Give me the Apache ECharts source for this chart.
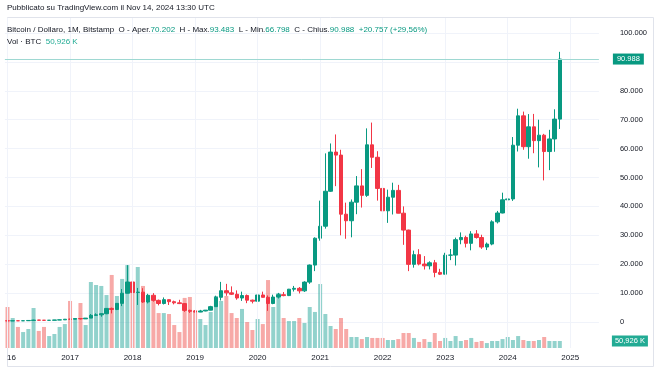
<!DOCTYPE html>
<html>
<head>
<meta charset="utf-8">
<script src="https://cdn.jsdelivr.net/npm/echarts@6/dist/echarts.min.js"></script>
<style>
html,body{margin:0;padding:0;background:#fff;}
#chart{width:660px;height:369px;}
</style>
</head>
<body>
<div id="chart"></div>
<script>
// ---- DATA (monthly, Jan 2016 .. Nov 2024) ----
const firstYear = 2016;
const totalSlots = 114; // Jan 2016 .. Jun 2025 (empty right margin)
const openP = [
 430.9,368.8,437,416,448.5,531,673,624,575,609,699,742,
 964.5,961,1190,1080,1350,2300,2480,2870,4700,4340,6450,9950,
 13850,10220,10330,6930,9240,7490,6400,7730,7030,6630,6370,4020,
 3690,3440,3820,4100,5320,8550,10820,10080,9600,8300,9150,7550,
 7200,9350,8540,6410,8630,9450,9140,11350,11650,10780,13800,19700,
 28990,33140,45240,58800,57750,37300,35040,41460,47100,43820,61300,57000,
 46220,38480,43180,45540,37650,31800,19940,23300,20050,19430,20490,17160,
 16540,23130,23150,28480,29250,27220,30480,29230,25940,26970,34660,37720,
 42280,42580,61170,71330,60660,67530,62750,64640,58980,63340,70202
];
const highP = [
 462.9,448,440,467,550,778,704,630,630,720,755,975,
 1150,1200,1290,1360,2760,3000,2950,4800,5000,6470,11400,19666,
 17200,11790,11700,9760,9990,7760,8500,7750,7400,7680,6550,4250,
 4110,4200,4130,5600,9100,13880,13200,12330,10940,10500,9520,7750,
 9580,10500,9190,9460,10070,10380,11450,12480,12100,14100,19880,29300,
 41990,58350,61780,64900,59600,41300,42400,50500,52900,67000,69000,59100,
 47990,45800,48200,47450,40000,31950,24700,25200,22800,21000,21480,18400,
 23950,25250,29200,31000,29850,31430,31800,30200,27500,35200,38430,44750,
 48970,64000,73800,72800,71950,72000,70000,65100,66500,73600,93483
];
const lowP = [
 350,365.5,394,412,436,520,605,470,570,605,680,740,
 750,920,890,1060,1350,2100,1830,2700,2970,4110,5500,9900,
 9000,5900,6600,6430,7050,5760,6070,5880,6100,6200,3500,3120,
 3350,3390,3700,4050,5300,7450,9070,9350,7700,7300,6520,6430,
 6850,8450,3850,6150,8130,8900,8970,10540,9880,10400,13200,17600,
 28130,32300,45000,47000,30000,28800,29300,37300,39600,43300,53300,42000,
 32950,34300,37200,37600,26700,17600,18800,19600,18150,18200,15480,16250,
 16500,21400,19550,26900,25800,24800,28860,25300,24900,26550,34100,37600,
 38500,41900,59000,59600,56500,58400,53500,49000,52550,58900,66798
];
const closeP = [
 368.8,437,416,448.5,531,673,624,575,609,699,742,964.5,
 961,1190,1080,1350,2300,2480,2870,4700,4340,6450,9950,13850,
 10220,10330,6930,9240,7490,6400,7730,7030,6630,6370,4020,3690,
 3440,3820,4100,5320,8550,10820,10080,9600,8300,9150,7550,7200,
 9350,8540,6410,8630,9450,9140,11350,11650,10780,13800,19700,28990,
 33140,45240,58800,57750,37300,35040,41460,47100,43820,61300,57000,46220,
 38480,43180,45540,37650,31800,19940,23300,20050,19430,20490,17160,16540,
 23130,23150,28480,29250,27220,30480,29230,25940,26970,34660,37720,42280,
 42580,61170,71330,60660,67530,62750,64640,58980,63340,70202,90988
];
// volume in thousands of BTC
const volumeK = [
 298,218,153,116,138,291,124,153,87,102,153,174,
 342,218,327,167,480,458,451,385,531,378,502,603,
 480,589,451,385,371,254,254,247,167,116,364,371,
 276,211,167,262,378,342,378,254,218,284,189,131,
 211,174,494,298,400,218,196,196,218,182,298,262,
 465,247,160,138,218,138,80,80,65,80,73,73,
 73,58,58,65,109,109,73,44,65,44,109,51,
 73,51,87,51,58,73,44,51,36,51,51,65,
 80,58,87,58,51,51,58,80,51,51,50.926
];
const yearLabels = ['16','2017','2018','2019','2020','2021','2022','2023','2024','2025'];
const lastPriceLabel = '90.988';
const lastVolLabel = '50,926 K';

// ---- build ----
const cats = [];
for (let i = 0; i < totalSlots; i++) {
  const y = firstYear + Math.floor(i / 12), m = i % 12 + 1;
  cats.push(y + '-' + (m < 10 ? '0' + m : m));
}
const janCats = cats.filter(c => c.endsWith('-01'));

const UP = '#089981', DOWN = '#f23645';
const UPV = 'rgba(38,166,154,0.5)', DOWNV = 'rgba(239,83,80,0.5)';
const PRICE_LINE = '#9ed8d2';
const candleData = openP.map((o, i) => [o, closeP[i], lowP[i], highP[i]]);
const volData = volumeK.map((v, i) => ({ value: v, itemStyle: { color: closeP[i] >= openP[i] ? UPV : DOWNV } }));

function itFmt(v) {
  return String(v).replace(/\B(?=(\d{3})+(?!\d))/g, '.');
}

const FONT = "'Liberation Sans', Arial, sans-serif";
const TXT = '#131722';
const GL = 4.9, GR = 61.1;
const HF = 8;

const chart = echarts.init(document.getElementById('chart'), null, { renderer: 'canvas' });
chart.setOption({
  animation: false,
  backgroundColor: '#ffffff',
  color: ['#26a69a', '#26a69a', '#26a69a', '#26a69a'],
  textStyle: { fontFamily: FONT },
  title: [
    { text: 'Pubblicato su TradingView.com il Nov 14, 2024 13:30 UTC', left: 7, top: 4, padding: 0,
      textStyle: { fontSize: HF, fontWeight: 'normal', color: TXT, fontFamily: FONT } },
    { text: '{t|Bitcoin / Dollaro, 1M, Bitstamp}  {t|O - Aper.}{v|70.202}  {t|H - Max.}{v|93.483}  {t|L - Min.}{v|66.798}  {t|C - Chius.}{v|90.988}  {v|+20.757 (+29,56%)}',
      left: 7, top: 26, padding: 0,
      textStyle: { fontSize: HF, fontWeight: 'normal', fontFamily: FONT,
        rich: { t: { color: TXT, fontSize: HF, fontFamily: FONT }, v: { color: UP, fontSize: HF, fontFamily: FONT } } } },
    { text: '{t|Vol · BTC}  {w|50,926 K}', left: 7, top: 38, padding: 0,
      textStyle: { fontSize: HF, fontWeight: 'normal', fontFamily: FONT,
        rich: { t: { color: TXT, fontSize: HF, fontFamily: FONT }, w: { color: '#22ab94', fontSize: HF, fontFamily: FONT } } } }
  ],
  graphic: [
    { type: 'rect', silent: true, z: -1,
      shape: { x: 7.5, y: 17.5, width: 646, height: 349 },
      style: { fill: 'none', stroke: '#e0e3eb', lineWidth: 1 } }
  ],
  grid: [
    { left: GL, right: GR, top: 18, bottom: 21 },          // background (year lines)
    { left: GL, right: GR, top: 33, bottom: 47 },          // price
    { left: GL, right: GR, bottom: 21, height: 100 }       // volume
  ],
  xAxis: [
    { type: 'category', gridIndex: 0, data: cats, show: false },
    { type: 'category', gridIndex: 1, data: cats, show: false },
    { type: 'category', gridIndex: 2, data: cats,
      axisLine: { show: false }, axisTick: { show: false }, splitLine: { show: false },
      axisLabel: {
        interval: 0, margin: 6, color: TXT, fontSize: 8, fontFamily: FONT,
        formatter: function (val) {
          if (!val.endsWith('-01')) return '';
          const idx = janCats.indexOf(val);
          if (idx === 0) return '{h|' + yearLabels[0] + '}';
          return yearLabels[idx];
        },
        rich: { h: { padding: [0, 0, 0, 8], fontSize: 8, color: TXT, fontFamily: FONT } }
      } }
  ],
  yAxis: [
    { type: 'value', gridIndex: 0, min: 0, max: 1, show: false },
    { type: 'value', gridIndex: 1, position: 'right', min: 0, max: 100000, interval: 10000,
      axisLine: { show: false }, axisTick: { show: false },
      splitLine: { lineStyle: { color: '#f0f3fa', width: 1 } },
      axisLabel: { margin: 21, color: TXT, fontSize: 7.5, fontFamily: FONT,
        formatter: function (v) { return v === 90000 ? '' : itFmt(v); } } },
    { type: 'value', gridIndex: 2, min: 0, max: 727, show: false }
  ],
  series: [
    { type: 'line', xAxisIndex: 0, yAxisIndex: 0, data: cats.map(() => null), silent: true,
      showSymbol: false, z: 0,
      markLine: { silent: true, symbol: ['none', 'none'], animation: false,
        lineStyle: { color: '#f0f3fa', width: 1, type: 'solid' }, label: { show: false },
        data: janCats.map(c => ({ xAxis: c })) } },
    { type: 'bar', name: 'Vol', xAxisIndex: 2, yAxisIndex: 2, data: volData, barWidth: 4, z: 1,
      markLine: { silent: true, symbol: ['none', 'none'], animation: false,
        lineStyle: { color: 'rgba(0,0,0,0)', width: 0 },
        label: { show: true, position: 'end', distance: 13, formatter: lastVolLabel,
          backgroundColor: '#22ab94', color: '#ffffff', padding: [2, 3, 1, 3], fontSize: 7.5, fontFamily: FONT },
        emphasis: { disabled: true },
        data: [{ yAxis: volumeK[volumeK.length - 1] }] } },
    { type: 'line', name: 'last', xAxisIndex: 1, yAxisIndex: 1, data: cats.map(() => null), silent: true,
      showSymbol: false, z: 2,
      markLine: { silent: true, symbol: ['none', 'none'], animation: false, precision: 3,
        lineStyle: { color: PRICE_LINE, width: 1, type: 'solid' },
        label: { show: true, position: 'end', distance: 14, formatter: lastPriceLabel,
          backgroundColor: UP, color: '#ffffff', padding: [2, 4, 1, 4], fontSize: 7.5, fontFamily: FONT },
        emphasis: { disabled: true },
        data: [{ yAxis: closeP[closeP.length - 1] }] } },
    { type: 'candlestick', name: 'BTC', xAxisIndex: 1, yAxisIndex: 1, data: candleData, barWidth: 4, z: 3,
      itemStyle: { color: UP, color0: DOWN, borderColor: UP, borderColor0: DOWN, borderWidth: 1 } }
  ]
});
</script>
</body>
</html>
